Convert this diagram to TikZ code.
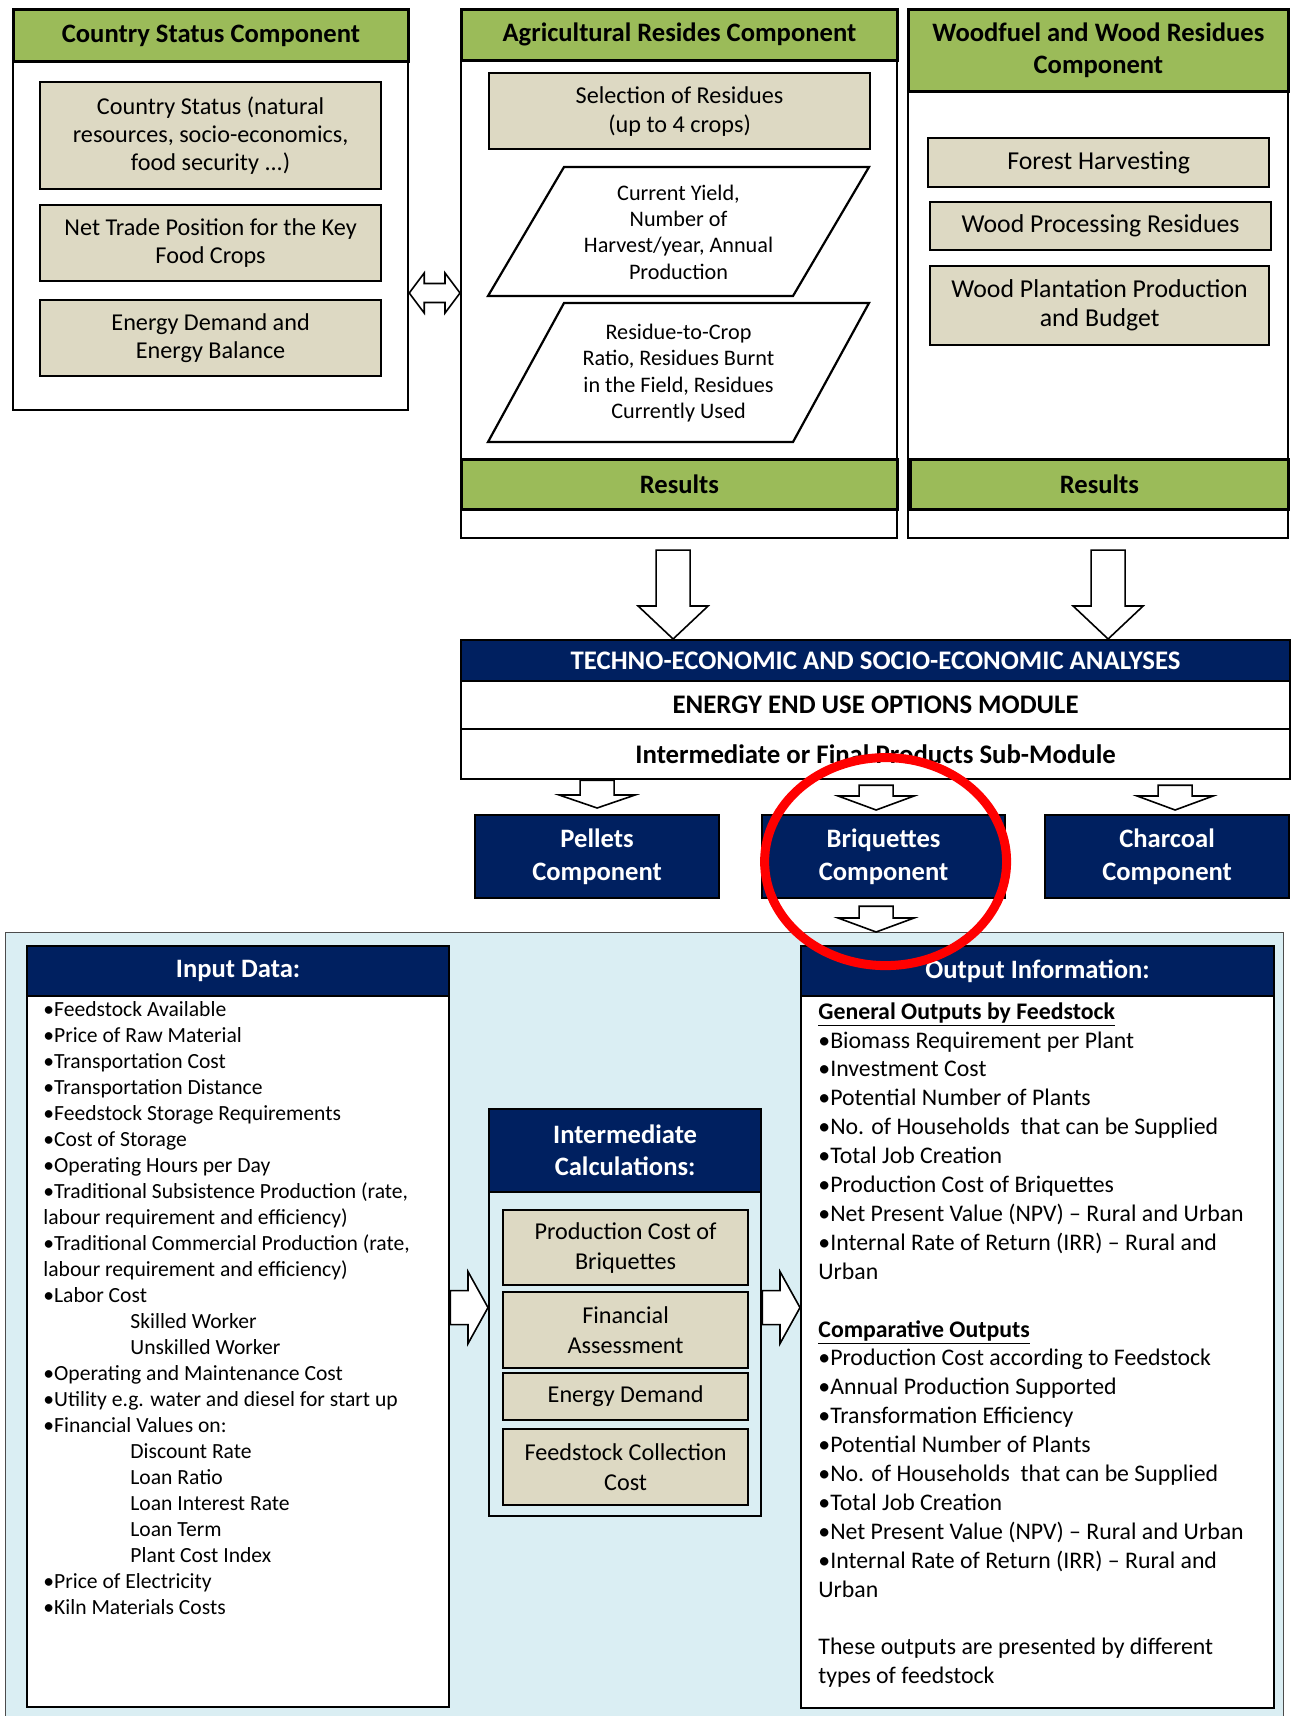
\documentclass[tikz,border=0pt]{standalone}
\usepackage{fontspec}
\setmainfont{Carlito}
\usetikzlibrary{calc}

\definecolor{hdrgreen}{HTML}{9BBB59}
\definecolor{tanfill}{HTML}{DDD9C3}
\definecolor{navyfill}{HTML}{002060}
\definecolor{paleblue}{HTML}{DAEEF3}

% block arrows between named points (shaft half, head half, head length)
\newcommand{\dnarrow}[5]{%
  \draw[fatarr] let \p1=(#1), \p2=(#2) in
    (\x1-#3,\y1) -- (\x1+#3,\y1) -- (\x1+#3,\y2+#5) -- (\x1+#4,\y2+#5)
    -- (\x1,\y2) -- (\x1-#4,\y2+#5) -- (\x1-#3,\y2+#5) -- cycle;}
\newcommand{\rtarrow}[5]{%
  \draw[fatarr] let \p1=(#1), \p2=(#2) in
    (\x1,\y1+#3) -- (\x2-#5,\y1+#3) -- (\x2-#5,\y1+#4) -- (\x2,\y1)
    -- (\x2-#5,\y1-#4) -- (\x2-#5,\y1-#3) -- (\x1,\y1-#3) -- cycle;}
\newcommand{\dblarrow}[5]{%
  \draw[fatarr] let \p1=(#1), \p2=(#2) in
    (\x1,\y1) -- (\x1+#5,\y1+#4) -- (\x1+#5,\y1+#3) -- (\x2-#5,\y1+#3)
    -- (\x2-#5,\y1+#4) -- (\x2,\y1) -- (\x2-#5,\y1-#4) -- (\x2-#5,\y1-#3)
    -- (\x1+#5,\y1-#3) -- (\x1+#5,\y1-#4) -- cycle;}

\begin{document}
\begin{tikzpicture}[x=0.5pt, y=-0.5pt,
  frame/.style={draw, line width=1.1pt, fill=white, anchor=north west, inner sep=0pt},
  greenhdr/.style={draw, line width=1.4pt, fill=hdrgreen, anchor=north west, inner sep=0pt,
    align=center, font=\fontsize{13.3}{16}\selectfont\bfseries},
  tanbox/.style={draw, line width=1.1pt, fill=tanfill, anchor=north west, inner sep=0pt,
    align=center, font=\fontsize{12.1}{14}\selectfont},
  woodbox/.style={tanbox, font=\fontsize{12.9}{14.5}\selectfont},
  paratxt/.style={align=center, inner sep=0pt, font=\fontsize{11.1}{13.15}\selectfont},
  navybox/.style={draw, line width=1.1pt, fill=navyfill, text=white, anchor=north west,
    inner sep=0pt, align=center, font=\fontsize{13.3}{16.5}\selectfont\bfseries},
  rowbox/.style={draw, line width=1.1pt, fill=white, anchor=north west, inner sep=0pt,
    font=\fontsize{13.4}{15}\selectfont\bfseries},
  listtxt/.style={anchor=north west, inner sep=0pt, align=left},
  fatarr/.style={draw, line width=0.8pt, fill=white, line join=miter}]

\useasboundingbox (0,0) rectangle (1290,1716);

% --- Country status ---
\node[frame, minimum width=197.5pt, minimum height=200.5pt] (cs) at (12,8) {};
\node[greenhdr, minimum width=197.5pt, minimum height=26pt] (cshdr) at (12,8) {Country Status Component};
\node[tanbox, minimum width=170.5pt, minimum height=53.5pt] (cs1) at (39,81)
  {Country Status (natural\\resources, socio-economics,\\food security ...)};
\node[tanbox, minimum width=170.5pt, minimum height=38pt] (cs2) at (39,204)
  {Net Trade Position for the Key\\Food Crops};
\node[tanbox, minimum width=170.5pt, minimum height=38pt] (cs3) at (39,299)
  {Energy Demand and\\Energy Balance};

% --- Agricultural residues ---
\node[frame, minimum width=218pt, minimum height=264.5pt] (agri) at (460,8) {};
\node[greenhdr, minimum width=218pt, minimum height=25.5pt] (agrihdr) at (460,8) {Agricultural Resides Component};
\node[greenhdr, minimum width=218pt, minimum height=25pt] (agrires) at (460,458) {Results};
\node[tanbox, minimum width=190.5pt, minimum height=38pt, font=\fontsize{12.1}{14.5}\selectfont] (sel) at (488,72)
  {Selection of Residues\\(up to 4 crops)};
\draw[line width=1.1pt, fill=white] (564,167) -- (869,167) -- (793,296) -- (488,296) -- cycle;
\node[paratxt] (yield) at (678.5,232) {Current Yield,\\Number of\\Harvest/year, Annual\\Production};
\draw[line width=1.1pt, fill=white] (564,303) -- (869,303) -- (793,442) -- (488,442) -- cycle;
\node[paratxt] (ratio) at (678.5,373) {Residue-to-Crop\\Ratio, Residues Burnt\\in the Field, Residues\\Currently Used};

% --- Woodfuel ---
\node[frame, minimum width=190pt, minimum height=264.5pt] (wood) at (907,8) {};
\node[greenhdr, minimum width=190pt, minimum height=41pt] (woodhdr) at (907,8) {Woodfuel and Wood Residues\\Component};
\node[greenhdr, minimum width=189pt, minimum height=25pt] (woodres) at (909,458) {Results};
\node[woodbox, minimum width=170.5pt, minimum height=24.5pt] (forest) at (927,137) {Forest Harvesting};
\node[woodbox, minimum width=170.5pt, minimum height=24pt] (wproc) at (929,201) {Wood Processing Residues};
\node[woodbox, minimum width=169.5pt, minimum height=39.5pt] (wplant) at (929,265)
  {Wood Plantation Production\\and Budget};

\coordinate (dA) at ($(cs.north east)+(0,285)$);
\dblarrow{dA}{dA -| agri.west}{4.75pt}{10pt}{7.5pt}

% --- analyses module ---
\node[navybox, minimum width=414.5pt, minimum height=20.5pt, font=\fontsize{13.4}{15}\selectfont\bfseries] (techno) at (460,639)
  {\raisebox{-1.5pt}{TECHNO-ECONOMIC AND SOCIO-ECONOMIC ANALYSES}};
\node[rowbox, minimum width=414.5pt, minimum height=24pt] (enduse) at (460,680) {ENERGY END USE OPTIONS MODULE};
\node[rowbox, minimum width=414.5pt, minimum height=25pt] (submod) at (460,728) {Intermediate or Final Products Sub-Module};

\coordinate (a1) at ($(agri.south)+(-6,11)$);
\coordinate (a2) at ($(wood.south)+(10,11)$);
\dnarrow{a1}{a1 |- techno.north}{8.5pt}{17.5pt}{16.5pt}
\dnarrow{a2}{a2 |- techno.north}{8.5pt}{17.5pt}{16.5pt}

\node[navybox, minimum width=122pt, minimum height=41.5pt] (pel) at (474,814) {Pellets\\Component};
\node[navybox, minimum width=121.5pt, minimum height=41.5pt] (briq) at (761,814) {Briquettes\\Component};
\node[navybox, minimum width=122pt, minimum height=41.5pt] (char) at (1044,814) {Charcoal\\Component};

\coordinate (p1) at (pel.north |- submod.south);
\coordinate (b1) at ($(briq.north |- submod.south)+(-7.5,5)$);
\coordinate (c1) at ($(char.north |- submod.south)+(8,5)$);
\dnarrow{p1}{$(pel.north)+(0,-6)$}{8.5pt}{19pt}{6.5pt}
\dnarrow{b1}{$(b1 |- briq.north)+(0,-4)$}{8.5pt}{19pt}{7pt}
\dnarrow{c1}{$(c1 |- char.north)+(0,-4)$}{8.5pt}{19pt}{7pt}

% --- briquettes detail ---
\node[draw=black!70, line width=0.6pt, fill=paleblue, anchor=north west, inner sep=0pt,
  minimum width=639pt, minimum height=394pt] (bg) at (5,932) {};
\coordinate (b2) at ($(briq.south)+(-7.5,7)$);
\dnarrow{b2}{b2 |- bg.north}{8.5pt}{19pt}{7pt}

\node[frame, minimum width=211pt, minimum height=380.5pt] (inp) at (26,945) {};
\node[navybox, minimum width=211pt, minimum height=25pt] (inphdr) at (26,945) {Input Data:};
\node[listtxt, font=\fontsize{10.8}{13}\selectfont] (inlist) at (43,1001) {%
•Feedstock Available\\
•Price of Raw Material\\
•Transportation Cost\\
•Transportation Distance\\
•Feedstock Storage Requirements\\
•Cost of Storage\\
•Operating Hours per Day\\
•Traditional Subsistence Production (rate,\\
labour requirement and efficiency)\\
•Traditional Commercial Production (rate,\\
labour requirement and efficiency)\\
•Labor Cost\\
\hspace*{43.5pt}Skilled Worker\\
\hspace*{43.5pt}Unskilled Worker\\
•Operating and Maintenance Cost\\
•Utility e.g. water and diesel for start up\\
•Financial Values on:\\
\hspace*{43.5pt}Discount Rate\\
\hspace*{43.5pt}Loan Ratio\\
\hspace*{43.5pt}Loan Interest Rate\\
\hspace*{43.5pt}Loan Term\\
\hspace*{43.5pt}Plant Cost Index\\
•Price of Electricity\\
•Kiln Materials Costs};

\node[frame, fill=paleblue, minimum width=136pt, minimum height=203.5pt] (calc) at (488,1108) {};
\node[navybox, minimum width=136pt, minimum height=41.5pt, font=\fontsize{13.3}{16}\selectfont\bfseries] (calchdr) at (488,1108)
  {Intermediate\\Calculations:};
\node[tanbox, minimum width=122.5pt, minimum height=37.5pt, font=\fontsize{12.1}{15}\selectfont] (ic1) at (502,1209) {Production Cost of\\Briquettes};
\node[tanbox, minimum width=122.5pt, minimum height=38pt, font=\fontsize{12.1}{15}\selectfont] (ic2) at (502,1291) {Financial\\Assessment};
\node[tanbox, minimum width=122.5pt, minimum height=23.5pt] (ic3) at (502,1372) {Energy Demand};
\node[tanbox, minimum width=122.5pt, minimum height=38pt, font=\fontsize{12.1}{15}\selectfont] (ic4) at (502,1428) {Feedstock Collection\\Cost};

\node[frame, minimum width=236.5pt, minimum height=381pt] (out) at (800,945) {};
\node[navybox, minimum width=236.5pt, minimum height=25pt] (outhdr) at (800,945) {Output Information:};
\node[listtxt, font=\fontsize{11.9}{14.45}\selectfont] (outlist) at (818,1002) {%
\underline{\textbf{General Outputs by Feedstock}}\\
•Biomass Requirement per Plant\\
•Investment Cost\\
•Potential Number of Plants\\
•No. of Households\ \ that can be Supplied\\
•Total Job Creation\\
•Production Cost of Briquettes\\
•Net Present Value (NPV) – Rural and Urban\\
•Internal Rate of Return (IRR) – Rural and\\
Urban\\
\mbox{}\\
\underline{\textbf{Comparative Outputs}}\\
•Production Cost according to Feedstock\\
•Annual Production Supported\\
•Transformation Efficiency\\
•Potential Number of Plants\\
•No. of Households\ \ that can be Supplied\\
•Total Job Creation\\
•Net Present Value (NPV) – Rural and Urban\\
•Internal Rate of Return (IRR) – Rural and\\
Urban\\
\mbox{}\\
These outputs are presented by different\\
types of feedstock};

\coordinate (r1) at ($(inp.east |- calc.center)+(0,-5)$);
\coordinate (r2) at ($(calc.east |- calc.center)+(0,-5)$);
\rtarrow{r1}{r1 -| calc.west}{8.5pt}{18pt}{10pt}
\rtarrow{r2}{r2 -| out.west}{8.5pt}{18pt}{10pt}

% highlight
\draw[red, line width=4.5pt] ($(briq.center)+(2,5)$) ellipse [x radius=60.5pt, y radius=52pt];

\end{tikzpicture}
\end{document}
